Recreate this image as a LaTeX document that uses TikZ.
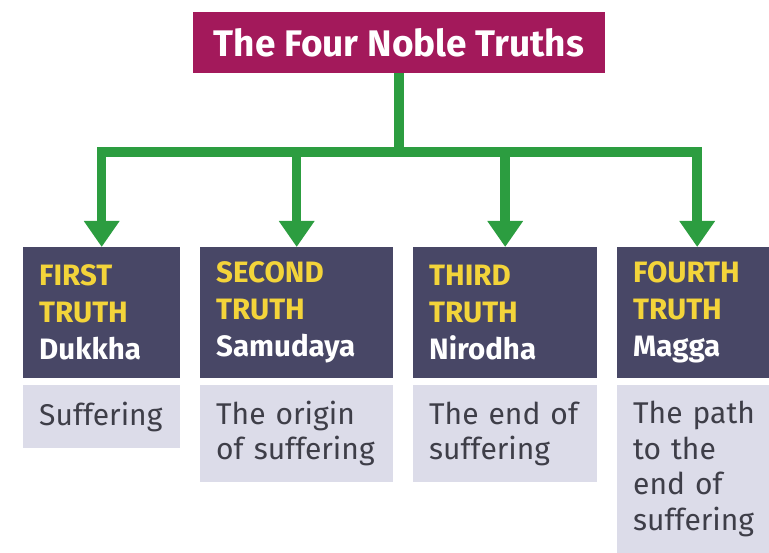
\documentclass[tikz,border=0pt]{standalone}
\usepackage{fontspec}
\setmainfont{Fira Sans}
\usetikzlibrary{arrows.meta}
\definecolor{titlemag}{HTML}{A3195B}
\definecolor{darkslate}{HTML}{484766}
\definecolor{lightbox}{HTML}{DCDCE9}
\definecolor{truthyel}{HTML}{F3D43A}
\definecolor{linkgreen}{HTML}{2C9D40}
\definecolor{bodygrey}{HTML}{3E3E48}
\tikzset{
  titlebox/.style={fill=titlemag, text=white, font=\bfseries\fontsize{37}{40}\selectfont,
    minimum width=412pt, minimum height=61pt, inner sep=0pt},
  darkbox/.style={fill=darkslate, text=white, anchor=north west, align=left,
    font=\bfseries\fontsize{29.5}{37}\selectfont, inner xsep=16pt, inner ysep=0pt,
    minimum height=131pt},
  lightbox/.style={fill=lightbox, text=bodygrey, anchor=north west, align=left,
    font=\fontsize{30}{35.5}\selectfont, inner xsep=16pt, inner ysep=0pt},
  link/.style={draw=linkgreen, line width=9.5pt, -{Triangle[length=26pt,width=34pt]}},
}
\newcommand{\yel}[1]{\textcolor{truthyel}{#1}}
\begin{document}
\begin{tikzpicture}[x=1pt,y=-1pt]
\useasboundingbox (0,0) rectangle (769,553);
\node[titlebox] (title) at (399,42.5) {The Four Noble Truths};
% dark boxes
\node[darkbox, text width=125pt] (d1) at (23,247) {\yel{FIRST}\\\yel{TRUTH}\\Dukkha};
\node[darkbox, text width=161pt] (d2) at (200,247) {\yel{SECOND}\\\yel{TRUTH}\\Samudaya};
\node[darkbox, text width=152pt] (d3) at (413,247) {\yel{THIRD}\\\yel{TRUTH}\\Nirodha};
\node[darkbox, text width=128pt] (d4) at (617,247) {\yel{FOURTH}\\\yel{TRUTH}\\Magga};
% light boxes
\node[lightbox, text width=125pt, minimum height=63pt] (l1) at (23,385) {Suffering};
\node[lightbox, text width=161pt, minimum height=97pt] (l2) at (200,385) {The origin\\of suffering};
\node[lightbox, text width=152pt, minimum height=97pt] (l3) at (413,385) {The end of\\suffering};
\node[lightbox, text width=128pt, minimum height=168pt] (l4) at (617,385) {The path\\to the\\end of\\suffering};
% connectors
\coordinate (j) at (title.south |- 0,152);
\draw[draw=linkgreen, line width=9.5pt] (title.south) -- (j);
\draw[link] (j) -| (d1.north);
\draw[link] (j) -| (d2.north);
\draw[link] (j) -| (d3.north);
\draw[link] (j) -| (d4.north);
\end{tikzpicture}
\end{document}
